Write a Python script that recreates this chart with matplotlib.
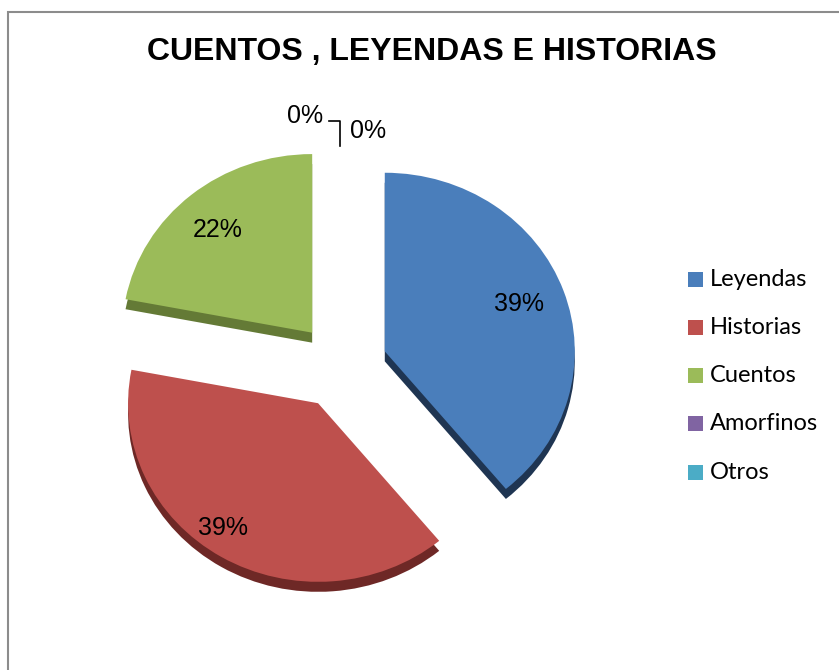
import matplotlib
matplotlib.use("Agg")
import matplotlib.pyplot as plt
from matplotlib.patches import Rectangle
from matplotlib.lines import Line2D

title = "CUENTOS , LEYENDAS E HISTORIAS"
categories = ["Leyendas", "Historias", "Cuentos", "Amorfinos", "Otros"]
values = [39, 39, 22, 0, 0]
face_colors = ["#4A7EBB", "#BE504D", "#9BBB59", "#8064A2", "#4BACC6"]
side_colors = ["#1F3552", "#6E2826", "#647A36", "#4F3E66", "#2E6F80"]

W, H = 839, 670
S = 0.94  # vertical squish of the tilted pie (px per y data unit)
fig = plt.figure(figsize=(W / 100, H / 100), dpi=100)
ax = fig.add_axes([0, 0, 1, 1])


def Y(y_img):
    """image pixel row -> data y"""
    return (H - y_img) / S


cx, cy = 341.5, Y(366)
R = 190
depth = 10 / S
explode = [46] * len(values)


def pct(p):
    return f"{p:.0f}%" if p > 0.5 else ""


# side (depth) of the 3D pie
ax.pie(values, colors=side_colors, startangle=90, counterclock=False,
       radius=R, center=(cx, cy - depth), explode=explode,
       wedgeprops=dict(linewidth=0))
# top face
wedges, texts, autotexts = ax.pie(
    values, colors=face_colors, startangle=90, counterclock=False,
    radius=R, center=(cx, cy), explode=explode, autopct=pct,
    pctdistance=0.78, wedgeprops=dict(linewidth=0),
    textprops=dict(fontsize=18, family="Liberation Sans", color="black"))

# small label nudges (pixels) to follow the original label placement
nudges = [(-5, 0), (-20, 5), (0, 5), (0, 0), (0, 0)]
for t, (dx, dy) in zip(autotexts, nudges):
    x, y = t.get_position()
    t.set_position((x + dx, y - dy / S))

# labels for zero-value slices
zero_pos = [(305, Y(116)), (368, Y(131))]
for (x, y), v in zip(zero_pos, values[3:]):
    ax.text(x, y, f"{v}%", fontsize=18, family="Liberation Sans",
            ha="center", va="center", color="black")
ax.add_line(Line2D([329, 340, 340], [Y(121), Y(121), Y(146)],
                   color="black", lw=1.2))

ax.set_xlim(0, W)
ax.set_ylim(0, H / S)
ax.set_aspect("auto")
ax.axis("off")

# chart border
ax.add_patch(Rectangle((8, Y(H + 20)), W + 40, Y(12) - Y(H + 20), fill=False,
                       edgecolor="#8C8C8C", lw=1.5))

# title
ax.text(432, Y(52), title, fontsize=23, fontweight="bold",
        family="Liberation Sans", ha="center", va="center")

# legend
leg_y0 = 279
step = 48.3
for i, (lab, col) in enumerate(zip(categories, face_colors)):
    yi = leg_y0 + i * step
    ax.add_patch(Rectangle((688, Y(yi + 7.5)), 15, 15 / S, facecolor=col,
                           edgecolor="none"))
    ax.text(710, Y(yi), lab, fontsize=17, family="Lato", ha="left",
            va="center", color="black")

fig.savefig("out.png", dpi=100)
